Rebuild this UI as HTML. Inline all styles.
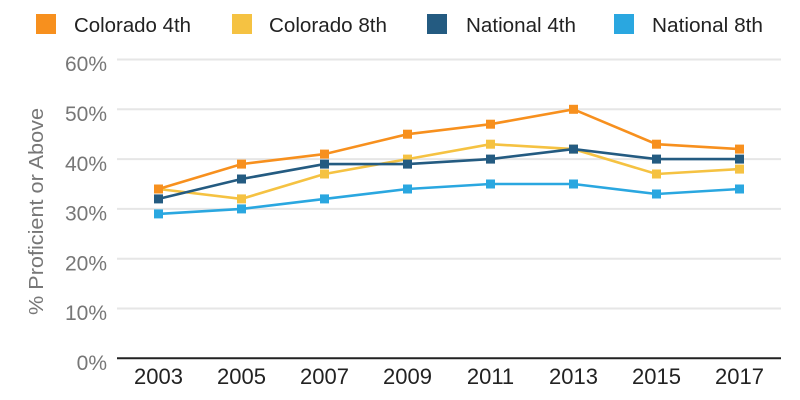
<!DOCTYPE html>
<html>
<head>
<meta charset="utf-8">
<style>
html,body{margin:0;padding:0;background:#fff;}
svg{display:block;}
text{font-family:"Liberation Sans",sans-serif;}
</style>
</head>
<body>
<svg width="800" height="400" viewBox="0 0 800 400" xmlns="http://www.w3.org/2000/svg">
<rect width="800" height="400" fill="#fff"/>
<!-- legend -->
<rect x="36" y="14" width="20" height="20" fill="#F7901E"/>
<text x="74" y="32" font-size="20" fill="#222" textLength="117" lengthAdjust="spacingAndGlyphs">Colorado 4th</text>
<rect x="232" y="14" width="20" height="20" fill="#F5C242"/>
<text x="269" y="32" font-size="20" fill="#222" textLength="118" lengthAdjust="spacingAndGlyphs">Colorado 8th</text>
<rect x="427" y="14" width="20" height="20" fill="#245B81"/>
<text x="466" y="32" font-size="20" fill="#222" textLength="110" lengthAdjust="spacingAndGlyphs">National 4th</text>
<rect x="614" y="14" width="20" height="20" fill="#2AA7E0"/>
<text x="652" y="32" font-size="20" fill="#222" textLength="111" lengthAdjust="spacingAndGlyphs">National 8th</text>

<!-- gridlines -->
<g stroke="#e6e6e6" stroke-width="2">
<line x1="117" y1="59.5" x2="781" y2="59.5"/>
<line x1="117" y1="109.3" x2="781" y2="109.3"/>
<line x1="117" y1="159.1" x2="781" y2="159.1"/>
<line x1="117" y1="208.9" x2="781" y2="208.9"/>
<line x1="117" y1="258.7" x2="781" y2="258.7"/>
<line x1="117" y1="308.5" x2="781" y2="308.5"/>
</g>
<line x1="117" y1="358.3" x2="781" y2="358.3" stroke="#222" stroke-width="2"/>

<!-- y ticks -->
<g font-size="21" fill="#777" text-anchor="end">
<text x="107" y="71">60%</text>
<text x="107" y="121">50%</text>
<text x="107" y="171">40%</text>
<text x="107" y="220.5">30%</text>
<text x="107" y="270.5">20%</text>
<text x="107" y="320">10%</text>
<text x="107" y="370">0%</text>
</g>
<text transform="translate(43,211.5) rotate(-90)" font-size="20" fill="#777" text-anchor="middle" textLength="207" lengthAdjust="spacingAndGlyphs">% Proficient or Above</text>

<!-- x ticks -->
<g font-size="22" fill="#222" text-anchor="middle">
<text x="158.5" y="384">2003</text>
<text x="241.5" y="384">2005</text>
<text x="324.5" y="384">2007</text>
<text x="407.5" y="384">2009</text>
<text x="490.5" y="384">2011</text>
<text x="573.5" y="384">2013</text>
<text x="656.5" y="384">2015</text>
<text x="739.5" y="384">2017</text>
</g>

<!-- Colorado 8th -->
<g>
<polyline fill="none" stroke="#F5C242" stroke-width="2.6" points="158.5,189.0 241.5,198.9 324.5,174.0 407.5,159.1 490.5,144.2 573.5,149.1 656.5,174.0 739.5,169.1"/>
<g fill="#F5C242">
<rect x="154" y="184.5" width="9" height="9"/><rect x="237" y="194.4" width="9" height="9"/><rect x="320" y="169.5" width="9" height="9"/><rect x="403" y="154.6" width="9" height="9"/><rect x="486" y="139.7" width="9" height="9"/><rect x="569" y="144.6" width="9" height="9"/><rect x="652" y="169.5" width="9" height="9"/><rect x="735" y="164.6" width="9" height="9"/>
</g>
</g>
<!-- National 8th -->
<g>
<polyline fill="none" stroke="#2AA7E0" stroke-width="2.6" points="158.5,213.9 241.5,208.9 324.5,198.9 407.5,189.0 490.5,184.0 573.5,184.0 656.5,194.0 739.5,189.0"/>
<g fill="#2AA7E0">
<rect x="154" y="209.4" width="9" height="9"/><rect x="237" y="204.4" width="9" height="9"/><rect x="320" y="194.4" width="9" height="9"/><rect x="403" y="184.5" width="9" height="9"/><rect x="486" y="179.5" width="9" height="9"/><rect x="569" y="179.5" width="9" height="9"/><rect x="652" y="189.5" width="9" height="9"/><rect x="735" y="184.5" width="9" height="9"/>
</g>
</g>
<!-- National 4th -->
<g>
<polyline fill="none" stroke="#245B81" stroke-width="2.6" points="158.5,198.9 241.5,179.0 324.5,164.1 407.5,164.1 490.5,159.1 573.5,149.1 656.5,159.1 739.5,159.1"/>
<g fill="#245B81">
<rect x="154" y="194.4" width="9" height="9"/><rect x="237" y="174.5" width="9" height="9"/><rect x="320" y="159.6" width="9" height="9"/><rect x="403" y="159.6" width="9" height="9"/><rect x="486" y="154.6" width="9" height="9"/><rect x="569" y="144.6" width="9" height="9"/><rect x="652" y="154.6" width="9" height="9"/><rect x="735" y="154.6" width="9" height="9"/>
</g>
</g>
<!-- Colorado 4th -->
<g>
<polyline fill="none" stroke="#F7901E" stroke-width="2.6" points="158.5,189.0 241.5,164.1 324.5,154.1 407.5,134.2 490.5,124.2 573.5,109.3 656.5,144.2 739.5,149.1"/>
<g fill="#F7901E">
<rect x="154" y="184.5" width="9" height="9"/><rect x="237" y="159.6" width="9" height="9"/><rect x="320" y="149.6" width="9" height="9"/><rect x="403" y="129.7" width="9" height="9"/><rect x="486" y="119.7" width="9" height="9"/><rect x="569" y="104.8" width="9" height="9"/><rect x="652" y="139.7" width="9" height="9"/><rect x="735" y="144.6" width="9" height="9"/>
</g>
</g>
</svg>
</body>
</html>
